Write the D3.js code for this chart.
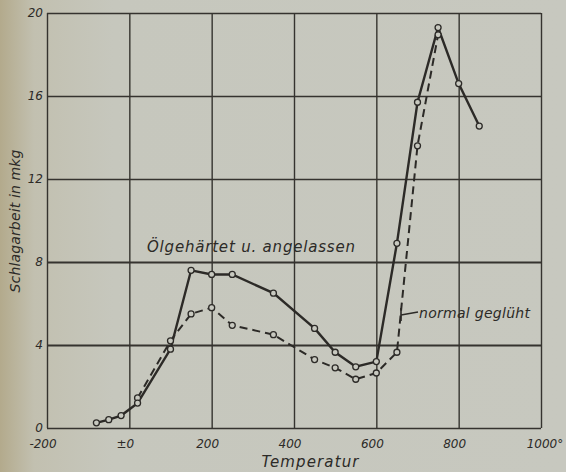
<!DOCTYPE html>
<html>
<head>
<meta charset="utf-8">
<script src="https://cdn.jsdelivr.net/npm/d3@7"></script>
<style>
  body { margin: 0; background: #c6c7bd; }
  svg text { font-family: "DejaVu Sans", sans-serif; font-style: italic; fill: #2c2a27; }
</style>
</head>
<body>
<div class="chart"></div>
<script>
// Ölgehärtet u. angelassen (solid)
var oel_temp = [-80, -50, -20, 20, 100, 150, 200, 250, 350, 450, 500, 550, 600, 650, 700, 750, 800, 850];
var oel_val  = [0.25, 0.4, 0.6, 1.2, 3.8, 7.6, 7.4, 7.4, 6.5, 4.8, 3.65, 2.95, 3.2, 8.9, 15.7, 19.3, 16.6, 14.55];
// normal geglüht (dashed)
var norm_temp = [20, 100, 150, 200, 250, 350, 450, 500, 550, 600, 650, 700, 750];
var norm_val  = [1.45, 4.2, 5.5, 5.8, 4.95, 4.5, 3.3, 2.9, 2.35, 2.65, 3.65, 13.6, 18.95];

var x_ticks = [-200, 0, 200, 400, 600, 800, 1000];
var x_labels = ["-200", "±0", "200", "400", "600", "800", "1000°"];
var y_ticks = [0, 4, 8, 12, 16, 20];

var w = 566;
var h = 472;
var margin = {
  top: 13,
  bottom: 44,
  left: 47,
  right: 25
}
var ink = "#2c2a27";

var svg = d3.select(".chart")
            .append("svg")
            .attr("width", w)
            .attr("height", h);

// paper, a bit darker and yellower at the left edge
var grad = svg.append("defs").append("linearGradient")
              .attr("id", "paper")
              .attr("x1", 0).attr("x2", 1).attr("y1", 0).attr("y2", 0);
grad.append("stop").attr("offset", "0").attr("stop-color", "#b3aa8c");
grad.append("stop").attr("offset", "0.06").attr("stop-color", "#c2c0b0");
grad.append("stop").attr("offset", "0.2").attr("stop-color", "#c6c7bd");
grad.append("stop").attr("offset", "1").attr("stop-color", "#c7c8bf");
svg.append("rect")
   .attr("width", w).attr("height", h)
   .attr("fill", "url(#paper)");

var xScale = d3.scaleLinear()
               .domain([-200, 1000])
               .range([margin.left, w - margin.right]);
var yScale = d3.scaleLinear()
               .domain([0, 20])
               .range([h - margin.bottom, margin.top]);

// grid
var xGrid = d3.axisBottom(xScale)
              .tickValues(x_ticks)
              .tickSize(-(yScale(0) - yScale(20)))
              .tickFormat("");
var yGrid = d3.axisLeft(yScale)
              .tickValues(y_ticks)
              .tickSize(-(xScale(1000) - xScale(-200)))
              .tickFormat("");
var gx = svg.append("g")
            .attr("transform", "translate(0," + yScale(0) + ")")
            .call(xGrid);
var gy = svg.append("g")
            .attr("transform", "translate(" + xScale(-200) + ",0)")
            .call(yGrid);
[gx, gy].forEach(function(g){
  g.select(".domain").remove();
  g.selectAll("line")
   .attr("stroke", "#35332f")
   .attr("stroke-width", 1.4);
});
gy.selectAll("line")
  .filter(function(d){ return d == 4 || d == 8; })
  .attr("stroke-width", 1.9);

// tick labels
svg.append("g")
   .selectAll("text")
   .data(x_ticks)
   .enter()
   .append("text")
   .attr("x", function(d){ return xScale(d) + (d == 1000 ? 4 : -4); })
   .attr("y", yScale(0) + 20)
   .attr("text-anchor", "middle")
   .attr("font-size", 12)
   .text(function(d, i){ return x_labels[i]; });

svg.append("g")
   .selectAll("text")
   .data(y_ticks)
   .enter()
   .append("text")
   .attr("x", xScale(-200) - 4)
   .attr("y", function(d){ return yScale(d) + 4; })
   .attr("text-anchor", "end")
   .attr("font-size", 12)
   .text(function(d){ return d; });

// axis titles
svg.append("text")
   .attr("x", 310)
   .attr("y", 467)
   .attr("text-anchor", "middle")
   .attr("font-size", 15)
   .attr("textLength", 97)
   .text("Temperatur");

svg.append("text")
   .attr("transform", "translate(20,221) rotate(-90)")
   .attr("text-anchor", "middle")
   .attr("font-size", 14)
   .attr("textLength", 143)
   .text("Schlagarbeit in mkg");

// lines
var line = d3.line()
             .x(function(d){ return xScale(d.t); })
             .y(function(d){ return yScale(d.v); });

var oel = oel_temp.map(function(t, i){ return {t: t, v: oel_val[i]}; });
var norm = norm_temp.map(function(t, i){ return {t: t, v: norm_val[i]}; });

svg.append("path")
   .datum(norm)
   .attr("d", line)
   .attr("fill", "none")
   .attr("stroke", ink)
   .attr("stroke-width", 2)
   .attr("stroke-dasharray", "8,5");

svg.append("path")
   .datum(oel)
   .attr("d", line)
   .attr("fill", "none")
   .attr("stroke", ink)
   .attr("stroke-width", 2.4);

// markers
svg.append("g")
   .selectAll("circle")
   .data(norm.concat(oel))
   .enter()
   .append("circle")
   .attr("cx", function(d){ return xScale(d.t); })
   .attr("cy", function(d){ return yScale(d.v); })
   .attr("r", 3)
   .attr("fill", "#c8c9c0")
   .attr("stroke", ink)
   .attr("stroke-width", 1.3);

// labels on the curves
svg.append("text")
   .attr("x", 147)
   .attr("y", 252)
   .attr("font-size", 15)
   .attr("textLength", 208)
   .text("Ölgehärtet u. angelassen");

svg.append("line")
   .attr("x1", 401).attr("x2", 401)
   .attr("y1", 308).attr("y2", 321)
   .attr("stroke", ink).attr("stroke-width", 1.6);
svg.append("line")
   .attr("x1", 401).attr("x2", 418)
   .attr("y1", 315).attr("y2", 312)
   .attr("stroke", ink).attr("stroke-width", 1.4);
svg.append("text")
   .attr("x", 419)
   .attr("y", 318)
   .attr("font-size", 14)
   .attr("textLength", 111)
   .text("normal geglüht");
</script>
</body>
</html>
